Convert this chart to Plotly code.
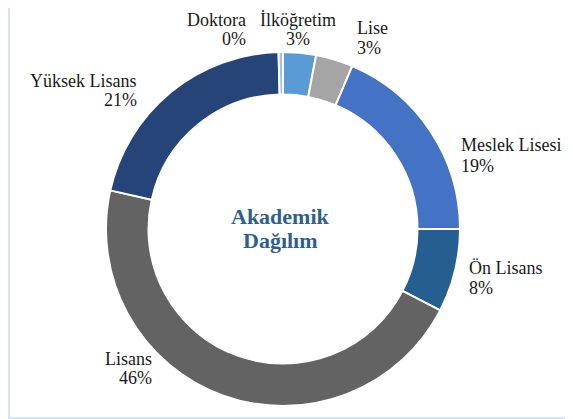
import plotly.graph_objects as go

labels = ["İlköğretim", "Lise", "Meslek Lisesi", "Ön Lisans", "Lisans", "Yüksek Lisans", "Doktora"]
values = [3.0, 3.4, 18.6, 7.6, 45.9, 21.1, 0.4]
colors = ["#5B9BD5", "#A5A5A5", "#4472C4", "#255E91", "#636363", "#264478", "#9DC3E6"]
center_title = ["Akademik", "Dağılım"]

OFF = 8  # page body margin
W, H = 573 - OFF, 419 - OFF
cx, cy, r = 283 - OFF, 229 - OFF, 177

fig = go.Figure(go.Pie(
    labels=labels, values=values, sort=False, direction="clockwise", rotation=0,
    hole=0.76, marker=dict(colors=colors, line=dict(color="white", width=2)),
    textinfo="none", hoverinfo="label+percent", showlegend=False,
    domain=dict(x=[(cx - r) / W, (cx + r) / W], y=[(H - cy - r) / H, (H - cy + r) / H]),
))

total = sum(values)
# label anchor in reference pixels: (x, y of name line, y of percent line, anchor)
label_pos = {
    "İlköğretim": (298, 20, 39, "center"),
    "Lise": (355, 28, 48, "left"),
    "Meslek Lisesi": (459, 145, 166, "left"),
    "Ön Lisans": (467, 268, 288, "left"),
    "Lisans": (154, 359, 378, "right"),
    "Yüksek Lisans": (139, 81, 100, "right"),
    "Doktora": (248, 20, 39, "right"),
}
serif = "Liberation Serif"
font = dict(family=serif, size=18, color="#1a1a1a")
annotations = []


def px(x, y):
    return (x - OFF) / W, 1 - (y - OFF) / H


for lab, val in zip(labels, values):
    x, y1, y2, xa = label_pos[lab]
    for txt, yy in ((lab, y1), (f"{round(val / total * 100)}%", y2)):
        ax, ay = px(x, yy)
        annotations.append(dict(
            text=txt, x=ax, y=ay, xref="paper", yref="paper", xanchor=xa, yanchor="middle",
            showarrow=False, font=font))
for txt, yy in zip(center_title, (216, 240)):
    ax, ay = px(280, yy)
    annotations.append(dict(
        text=f"<b>{txt}</b>", x=ax, y=ay, xref="paper", yref="paper", xanchor="center",
        yanchor="middle", showarrow=False, font=dict(family=serif, size=22, color="#2F5F8F")))

fig.update_layout(
    width=W, height=H, margin=dict(l=0, r=0, t=0, b=0),
    paper_bgcolor="#DAE3F3",
    shapes=[dict(type="rect", xref="paper", yref="paper", x0=2 / W, x1=1, y0=2 / H, y1=1,
                 fillcolor="white", line=dict(width=0), layer="below")],
    annotations=annotations,
)
fig.write_html("out.html")
